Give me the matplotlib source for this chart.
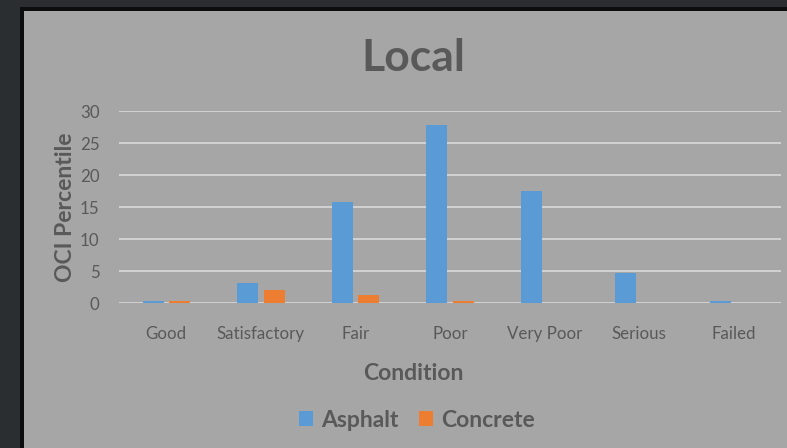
import numpy as np
import matplotlib.pyplot as plt
from matplotlib.patches import Rectangle

conditions = ['Good', 'Satisfactory', 'Fair', 'Poor', 'Very Poor', 'Serious', 'Failed']
asphalt = [0.3, 3.1, 15.8, 27.9, 17.5, 4.7, 0.3]
concrete = [0.3, 2.0, 1.25, 0.3, 0.0, 0.0, 0.0]
yticks = [0, 5, 10, 15, 20, 25, 30]

W, H = 787, 448
text_color = '#595959'
plt.rcParams['font.family'] = ['Lato', 'DejaVu Sans']

fig = plt.figure(figsize=(W / 100, H / 100), dpi=100)
fig.patch.set_facecolor('#2b2e31')

# black frame and grey chart panel
fig.patches.append(Rectangle((20 / W, 0), 1, 1 - 7 / H, transform=fig.transFigure,
                             facecolor='#0d0d0d', edgecolor='none', zorder=-2))
fig.patches.append(Rectangle((24 / W, 0), 1, 1 - 11 / H, transform=fig.transFigure,
                             facecolor='#a6a6a6', edgecolor='none', zorder=-1))

ax = fig.add_axes([119 / W, (H - 303.3) / H, (781 - 119) / W, (303.3 - 111.3) / H])
ax.set_facecolor('none')

x = np.arange(len(conditions))
bw = 0.222
ax.bar(x - 0.14, asphalt, bw, color='#5b9bd5', label='Asphalt', zorder=3)
ax.bar(x + 0.14, concrete, bw, color='#ed7d31', label='Concrete', zorder=3)

ax.set_xlim(-0.5, len(conditions) - 0.5)
ax.set_ylim(0, 30)
ax.set_yticks(yticks)
ax.set_xticks(x)
ax.set_xticklabels(conditions)
ax.tick_params(axis='both', length=0, colors=text_color, labelsize=12.2)
ax.tick_params(axis='y', pad=14)
ax.tick_params(axis='x', pad=16)
ax.yaxis.grid(True, color='#d9d9d9', linewidth=1.2, zorder=0)
for s in ax.spines.values():
    s.set_visible(False)

fig.text(413 / W, 1 - 58 / H, 'Local', ha='center', va='center',
         fontsize=32, fontweight='bold', color=text_color)
fig.text(413 / W, 1 - 373 / H, 'Condition', ha='center', va='center',
         fontsize=16.5, fontweight='bold', color=text_color)
fig.text(66 / W, 1 - 207 / H, 'OCI Percentile', ha='center', va='center',
         rotation=90, fontsize=16.5, fontweight='bold', color=text_color)

leg = fig.legend(loc='center', bbox_to_anchor=(417 / W, 1 - 420 / H), ncol=2,
                 frameon=False, handlelength=0.6, handleheight=0.6,
                 handletextpad=0.35, columnspacing=0.9,
                 prop={'size': 16.5, 'weight': 'bold'})
for t in leg.get_texts():
    t.set_color(text_color)

fig.savefig('out.png', dpi=100, facecolor=fig.get_facecolor())
